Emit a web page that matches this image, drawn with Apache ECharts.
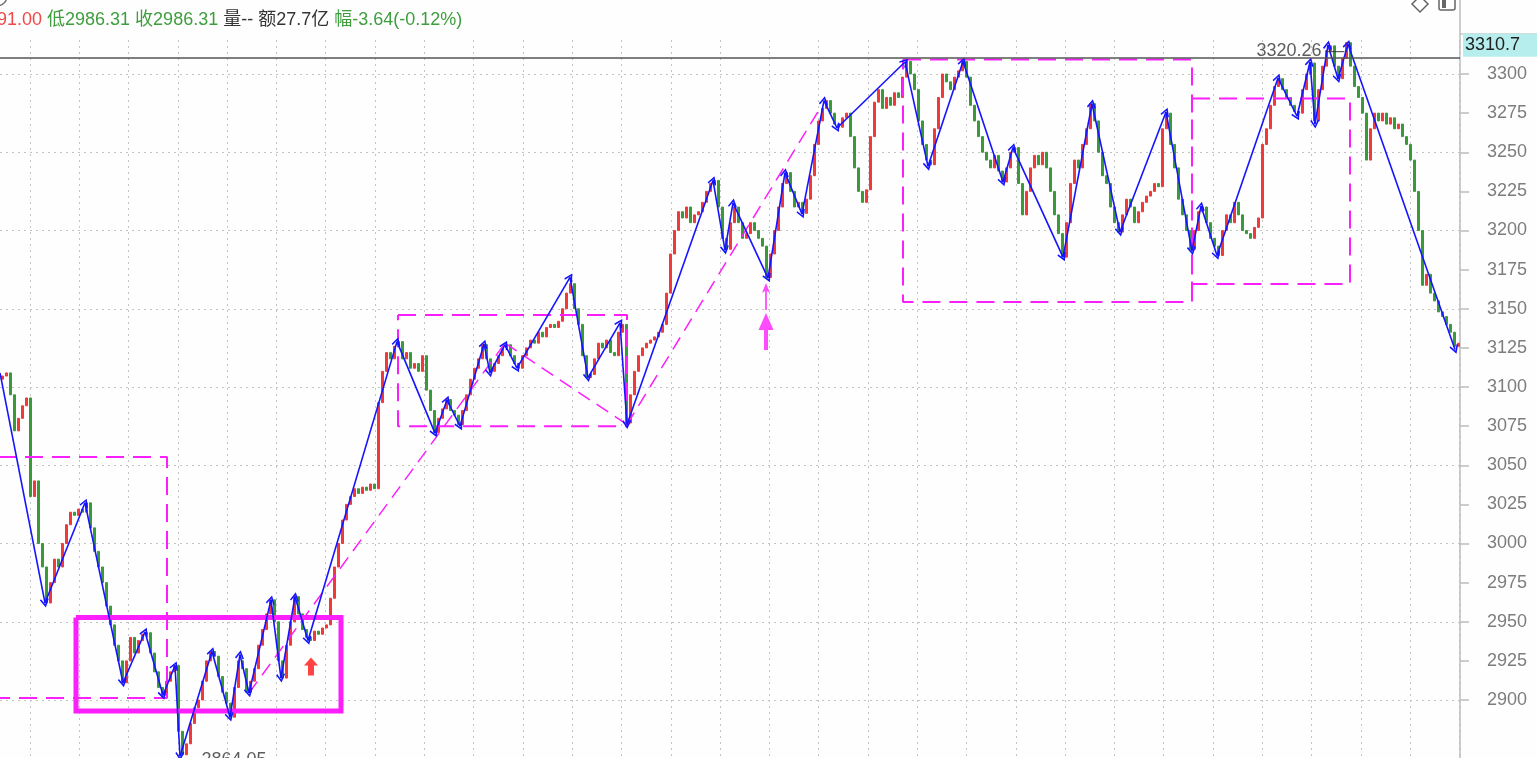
<!DOCTYPE html>
<html><head><meta charset="utf-8">
<script src="https://cdn.jsdelivr.net/npm/echarts@6/dist/echarts.min.js"></script>
<style>html,body{margin:0;padding:0;background:#fefefe}#c{width:1537px;height:758px}</style>
</head><body><div id="c"></div><script>
// ---- data (candle index, price) ----
const firstOpen = 3105;
const closes = [
 3107,3109,3095,3072,3080,3088,3093,3030,3040,3000,2985,2962,
 2975,2990,2985,3000,3012,3020,3018,3022,3020,3026,
 3010,2995,2985,2975,2960,2948,2935,2925,2911,
 2925,2940,2930,2938,2942,2943,
 2930,2918,2908,2903,
 2912,2918,2922,
 2880,2865,
 2872,2885,2895,2900,2912,2925,2931,2928,
 2915,2905,2898,2889,
 2908,2925,2920,
 2905,
 2912,2920,2935,2945,2955,2964,
 2950,2925,2914,
 2935,2950,2966,
 2955,2945,2940,2938,
 2944,2942,2946,2948,2965,2985,3000,3015,3025,3030,3035,3032,3036,3034,3038,3035,3090,3110,3122,3118,3126,3129,
 3118,3122,3112,3115,3110,3120,3098,3085,3071,
 3080,3086,3092,
 3085,3082,3076,
 3085,3095,3105,3112,3118,3127,
 3118,3110,
 3115,3120,3125,3127,
 3120,3115,3112,
 3120,3125,3130,3128,3135,3132,3138,3140,3138,3142,3150,3160,3166,
 3150,3140,3120,3106,3108,
 3118,3128,3125,3130,3122,3120,3135,3140,
 3077,
 3095,3110,3120,3125,3128,3130,3132,3135,3140,3160,3185,3200,3212,3208,3215,3205,3210,3212,3218,3225,3230,3232,
 3215,3195,3188,
 3205,3215,
 3205,3195,3198,3205,3200,3195,3190,3170,
 3185,3200,3215,3230,3237,
 3225,3215,3218,3211,
 3220,3235,3255,3270,3278,3283,
 3275,3268,3266,3272,3275,3260,3240,3225,3218,3226,3260,3282,3290,3278,3285,3280,3288,3285,3298,3308,
 3300,3290,3270,3255,3245,3242,
 3265,3285,3300,3295,3290,3298,3302,3308,
 3298,3280,3270,3260,3250,3245,3240,3248,3238,3231,
 3240,3250,3253,
 3230,3210,3225,3240,3248,3242,3250,3240,3225,3210,3198,3183,
 3205,3230,3245,3240,3255,3265,3281,
 3270,3250,3235,3230,3215,3205,3199,
 3210,3220,3215,3205,3212,3218,3222,3225,3230,3228,3265,3275,
 3255,3240,3220,3210,3200,3188,
 3200,3212,3215,
 3205,3195,3190,3184,
 3200,3210,3205,3218,3210,3200,3198,3195,3202,3208,3255,3265,3280,3292,3297,
 3290,3285,3280,3276,3275,
 3290,3300,3307,
 3270,
 3290,3305,3315,3318,
 3305,3297,
 3310,3320,
 3305,3292,3285,3275,3245,3265,3275,3270,3275,3268,3272,3265,3268,3260,3255,3245,3225,3200,3165,3172,3160,3155,3148,3145,3140,3135,3126,3128
];
const zigzag = [
 [-0.5,3109],[10.75,2962],[20.75,3026],[30.25,2911],[35.75,2943.5],[40.25,2903],[43.25,2922],[44.5,2864.05],
 [52.5,2931],[57,2889],[59.5,2929],[61.75,2904.5],[67.25,2964],[69.75,2914],[73.25,2966],[76.5,2938],
 [98.75,3129],[108.25,3070.5],[111.25,3091.7],[114.5,3075],[120.5,3127.5],[122,3109],[125.75,3127],[128.75,3112],
 [142,3170],[146.5,3106],[154.5,3141],[156.25,3076],[177.75,3232],[180.75,3187.5],[182.75,3217.6],[191.5,3169.6],
 [195.75,3237],[200,3210.5],[205.5,3283],[208.75,3265.5],[225.75,3307.7],[231.5,3241],[240.25,3308],[250.25,3231],
 [252.75,3253],[265.25,3183],[272.5,3281],[279.5,3199],[291,3275.7],[297.5,3187],[299.75,3215.6],[303.75,3184],
 [319,3297.4],[323.75,3273],[327,3307.7],[328.25,3268],[331.5,3318.5],[334,3297],[336.5,3319],[363.25,3124]
];
// y-axis tick labels
const yTickValues = [2900,2925,2950,2975,3000,3025,3050,3075,3100,3125,3150,3175,3200,3225,3250,3275,3300];
// dashed boxes: [leftIdx, rightIdx, top, bottom]
const boxA = [-1, 41.25, 3055.3, 2901.3];
const boxB = [99, 156.25, 3146, 3075];
const boxC = [225.25, 297.5, 3309.2, 3154.3];
const boxD = [297.5, 337, 3284.3, 3165.8];
const trendUp1 = [[61.75,2904.5],[125.75,3128]];
const trendDown = [[125.75,3128],[156.25,3076]];
const trendUp2 = [[156.25,3076],[204.5,3278]];
const focusBox = [18.5, 84.75, 2952.7, 2893];
const lastPrice = 3310.7;
const highPoint = [336.5, 3320.26];
const lowPoint = [44.5, 2864.05];
const redArrowAt = [77.25, 2921.4];
const pinkArrowSmallAt = [191, 3157.8];
const pinkArrowBigAt = [191, 3135.5];

const FONT = 'Liberation Sans, Noto Sans CJK SC, sans-serif';
const MAG = '#fb1ffb';
const candleData = closes.map((c, i) => {
  const o = i === 0 ? firstOpen : closes[i - 1];
  return [i, o, c, Math.min(o, c), Math.max(o, c)];
});
const rectPts = b => [[b[0], b[2]], [b[1], b[2]], [b[1], b[3]], [b[0], b[3]], [b[0], b[2]]];
const dashSeries = (pts, w, dash) => ({
  type: 'line', xAxisIndex: 0, yAxisIndex: 0, data: pts, showSymbol: false, symbol: 'none', z: 4,
  silent: true, lineStyle: { color: MAG, width: w, type: dash }
});
const labelSeries = (pt, text, pos, dy) => ({
  type: 'scatter', xAxisIndex: 0, yAxisIndex: 0, z: 9, silent: true, symbolSize: 1,
  itemStyle: { color: 'rgba(0,0,0,0)' }, labelLayout: { hideOverlap: false, dy: dy },
  label: { show: true, position: pos, distance: 3, formatter: text,
    color: '#333', fontSize: 18, fontFamily: FONT },
  data: [pt]
});
const chevron = 'path://M5 0 L10 8 L8.6 9 L5 3.2 L1.4 9 L0 8 Z';

const option = {
  animation: false,
  backgroundColor: '#fefefe',
  title: {
    text: '{r|91.00} {g|低2986.31} {g|收2986.31} {k|量-- 额27.7亿} {g|幅-3.64(-0.12%)}',
    left: -3, top: 11, padding: 0,
    textStyle: { fontSize: 18, fontWeight: 'normal', fontFamily: FONT,
      rich: { r: { color: '#f04848', fontSize: 18, fontFamily: FONT },
              g: { color: '#3e9e3e', fontSize: 18, fontFamily: FONT },
              k: { color: '#333', fontSize: 18, fontFamily: FONT } } }
  },
  grid: [
    { left: 0, right: 77, top: -4.25, bottom: -20.25, outerBoundsMode: 'none', containLabel: false },
    { left: -19.29, right: 77.59, top: 40, bottom: 0, outerBoundsMode: 'none', containLabel: false }
  ],
  xAxis: [
    { type: 'value', gridIndex: 0, min: -0.5, max: 364.5, show: false, axisLine: { onZero: false } },
    { type: 'value', gridIndex: 1, min: 0, max: 30, interval: 1,
      axisLine: { show: false, onZero: false }, axisTick: { show: false }, axisLabel: { show: false },
      splitLine: { show: true, lineStyle: { color: '#c4c4c4', type: [2, 4], width: 1 } } }
  ],
  yAxis: [
    { type: 'value', gridIndex: 0, position: 'right', min: 2850, max: 3350, interval: 25,
      axisLine: { show: true, onZero: false, lineStyle: { color: '#bdbdbd', width: 1.5 } },
      axisTick: { show: true, length: 9, customValues: yTickValues, lineStyle: { color: '#bdbdbd', width: 1.5 } },
      axisLabel: { margin: 27, color: '#7d7d7d', fontSize: 18, fontFamily: FONT, customValues: yTickValues,
        formatter: v => String(v) },
      splitLine: { show: false } },
    { type: 'value', gridIndex: 0, position: 'right', min: 2850, max: 3350, interval: 50,
      axisLine: { show: false, onZero: false }, axisTick: { show: false }, axisLabel: { show: false },
      splitLine: { show: true, lineStyle: { color: '#c4c4c4', type: [2, 4], width: 1 } } },
    { type: 'value', gridIndex: 1, min: 0, max: 1, show: false, axisLine: { onZero: false } }
  ],
  graphic: [
    { type: 'line', shape: { x1: 1460, y1: 34, x2: 1537, y2: 34 }, style: { stroke: '#c8c8c8', lineWidth: 1.5 } },
    { type: 'circle', shape: { cx: -3, cy: -4, r: 10 }, style: { fill: 'none', stroke: '#777', lineWidth: 1.5 } },
    { type: 'polygon', shape: { points: [[1420, -4], [1428, 4], [1420, 12], [1412, 4]] }, style: { fill: 'none', stroke: '#666', lineWidth: 1.5 } },
    { type: 'rect', shape: { x: 1439, y: -6, width: 16, height: 16, r: 2 }, style: { fill: 'none', stroke: '#666', lineWidth: 1.5 } },
    { type: 'rect', shape: { x: 1442, y: -3, width: 4, height: 11 }, style: { fill: '#666' } }
  ],
  series: [
    { type: 'candlestick', name: 'K', xAxisIndex: 0, yAxisIndex: 0, z: 2,
      dimensions: ['idx', 'open', 'close', 'lowest', 'highest'],
      encode: { x: 'idx', y: ['open', 'close', 'lowest', 'highest'] },
      data: candleData, barWidth: 2.5,
      itemStyle: { color: '#f03a3a', color0: '#3a9a3a', borderColor: '#f03a3a', borderColor0: '#3a9a3a', borderWidth: 1 },
      markLine: { silent: true, symbol: 'none', z: 8,
        lineStyle: { color: '#555', width: 1.5, type: 'solid' },
        label: { show: true, position: 'end', distance: 3, formatter: String(lastPrice),
          color: '#222', fontSize: 18, fontFamily: FONT, backgroundColor: '#b6eded',
          padding: [3, 19, 2, 2], offset: [0, -12] },
        data: [{ yAxis: lastPrice }] } },
    dashSeries(rectPts(boxA), 2, [18, 9]),
    dashSeries(rectPts(boxB), 2, [18, 9]),
    dashSeries(rectPts(boxC), 2, [18, 9]),
    dashSeries(rectPts(boxD), 2, [18, 9]),
    dashSeries(trendUp1, 1.5, [14, 8]),
    dashSeries(trendDown, 1.5, [14, 8]),
    dashSeries(trendUp2, 1.5, [14, 8]),
    { type: 'line', xAxisIndex: 0, yAxisIndex: 0, data: rectPts(focusBox), showSymbol: false, symbol: 'none', z: 5,
      silent: true, lineStyle: { color: MAG, width: 5, type: 'solid', join: 'miter' } },
    { type: 'lines', coordinateSystem: 'cartesian2d', xAxisIndex: 0, yAxisIndex: 0, z: 6, silent: true,
      symbol: ['none', chevron], symbolSize: [10, 9],
      lineStyle: { color: '#1414ff', width: 1.6, opacity: 1, curveness: 0 },
      data: zigzag.slice(1).map((p, i) => ({ coords: [zigzag[i], p] })) },
    { type: 'scatter', xAxisIndex: 0, yAxisIndex: 0, z: 7, silent: true,
      data: [
        { value: redArrowAt, symbol: 'path://M7 0 L14 8 L10 8 L10 18 L4 18 L4 8 L0 8 Z', symbolSize: [14, 18], itemStyle: { color: '#ff1414' } },
        { value: pinkArrowSmallAt, symbol: 'path://M4 0 L8 10 L4.9 8 L4.9 27 L3.1 27 L3.1 8 L0 10 Z', symbolSize: [8, 27], itemStyle: { color: MAG } },
        { value: pinkArrowBigAt, symbol: 'path://M7.5 0 L15 17 L9.5 17 L9.5 37 L5.5 37 L5.5 17 L0 17 Z', symbolSize: [15, 37], itemStyle: { color: MAG } }
      ] },
    labelSeries(highPoint, highPoint[1].toFixed(2) + ' —', 'left', 9),
    labelSeries(lowPoint, '←' + lowPoint[1].toFixed(2), 'right', 4)
  ]
};
const chart = echarts.init(document.getElementById('c'));
chart.setOption(option);
</script></body></html>
